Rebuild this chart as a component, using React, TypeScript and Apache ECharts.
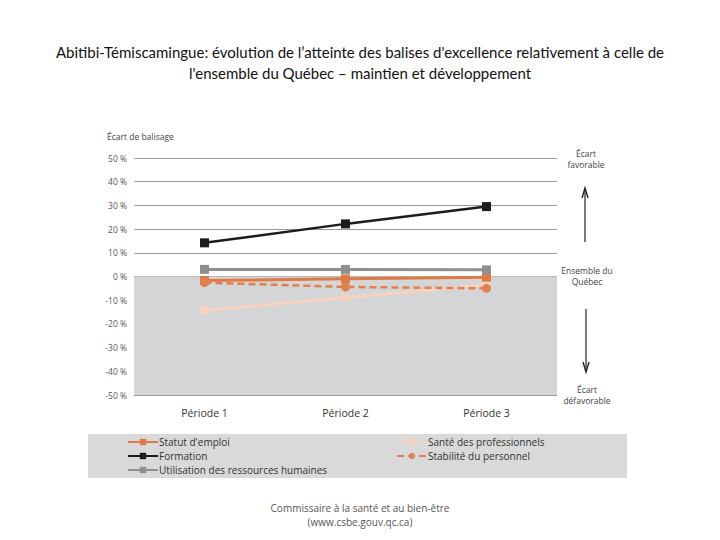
import React, { useEffect, useRef } from "react";
import * as echarts from "echarts";

const categories = ["Période 1", "Période 2", "Période 3"];
const statutEmploi = [-1.7, -1.0, -0.3];
const santeProfessionnels = [-14.2, -9.0, -3.5];
const formation = [14.2, 22.2, 29.5];
const stabilitePersonnel = [-2.6, -4.4, -5.0];
const utilisationRH = [3.0, 3.0, 2.8];
const yTicks = { min: -50, max: 50, interval: 10 };

const TITLE =
  "Abitibi-Témiscamingue: évolution de l’atteinte des balises d'excellence relativement à celle de\nl'ensemble du Québec – maintien et développement";

export default function App() {
  const ref = useRef<HTMLDivElement>(null);
  useEffect(() => {
    if (!ref.current) return;
    const chart = echarts.init(ref.current, null, { renderer: "svg" });
    const font = "'Open Sans', sans-serif";
    const mk = (
      name: string,
      data: number[],
      color: string,
      width: number,
      symbol: string,
      size: number,
      dashed = false
    ) => ({
      name,
      type: "line",
      data,
      symbol,
      symbolSize: size,
      showSymbol: true,
      lineStyle: { color, width, type: dashed ? [7, 4] : "solid" },
      itemStyle: { color, borderWidth: 0 },
      z: 3,
    });
    const legendText = { fontSize: 10, color: "#333", fontFamily: font, padding: [0, 0, 0, -4] };
    chart.setOption({
      animation: false,
      textStyle: { fontFamily: font },
      grid: { left: 134, right: 163, top: 158, bottom: 145 },
      xAxis: {
        type: "category",
        data: categories,
        boundaryGap: true,
        axisLine: { show: false },
        axisTick: { show: false },
        axisLabel: { color: "#333", fontSize: 10.5, margin: 12, fontFamily: font },
      },
      yAxis: {
        type: "value",
        min: yTicks.min,
        max: yTicks.max,
        interval: yTicks.interval,
        axisLine: { show: false },
        axisTick: { show: false },
        axisLabel: {
          formatter: (v: number) => `${v} %`,
          color: "#555",
          fontSize: 8.5,
          margin: 7,
          fontFamily: font,
        },
        splitLine: { lineStyle: { color: "#9a9a9a", width: 1 } },
      },
      legend: [
        {
          data: ["Statut d'emploi", "Formation", "Utilisation des ressources humaines"],
          orient: "vertical",
          left: 127,
          top: 437,
          itemWidth: 30,
          itemHeight: 8,
          itemGap: 4,
          padding: 0,
          textStyle: legendText,
        },
        {
          data: ["Santé des professionnels", "Stabilité du personnel"],
          orient: "vertical",
          left: 396,
          top: 437,
          itemWidth: 30,
          itemHeight: 8,
          itemGap: 4,
          padding: 0,
          textStyle: legendText,
        },
      ],
      graphic: [
        {
          type: "text",
          x: 360,
          y: 41,
          style: {
            text: TITLE,
            fontSize: 15,
            lineHeight: 21,
            fill: "#111",
            align: "center",
            fontFamily: "Lato, sans-serif",
          },
        },
        {
          type: "rect",
          z: -10,
          shape: { x: 88, y: 434, width: 539, height: 44 },
          style: { fill: "#d9d9d9" },
        },
        {
          type: "text",
          x: 107,
          y: 132,
          style: { text: "Écart de balisage", fontSize: 8.5, fill: "#444", fontFamily: font },
        },
        {
          type: "text",
          x: 586,
          y: 148,
          style: {
            text: "Écart\nfavorable",
            fontSize: 8.5,
            lineHeight: 11,
            fill: "#444",
            align: "center",
            fontFamily: font,
          },
        },
        {
          type: "text",
          x: 587,
          y: 265,
          style: {
            text: "Ensemble du\nQuébec",
            fontSize: 8.5,
            lineHeight: 11,
            fill: "#444",
            align: "center",
            fontFamily: font,
          },
        },
        {
          type: "text",
          x: 587,
          y: 384,
          style: {
            text: "Écart\ndéfavorable",
            fontSize: 8.5,
            lineHeight: 11,
            fill: "#444",
            align: "center",
            fontFamily: font,
          },
        },
        {
          type: "line",
          shape: { x1: 585, y1: 242, x2: 585, y2: 190 },
          style: { stroke: "#222", lineWidth: 1.2 },
        },
        {
          type: "polyline",
          shape: { points: [[582, 198], [585, 188], [588, 198]] },
          style: { stroke: "#222", lineWidth: 1.4, fill: null },
        },
        {
          type: "line",
          shape: { x1: 586, y1: 309, x2: 586, y2: 370 },
          style: { stroke: "#222", lineWidth: 1.2 },
        },
        {
          type: "polyline",
          shape: { points: [[583, 362], [586, 372], [589, 362]] },
          style: { stroke: "#222", lineWidth: 1.4, fill: null },
        },
        {
          type: "text",
          x: 360,
          y: 501,
          style: {
            text: "Commissaire à la santé et au bien-être\n(www.csbe.gouv.qc.ca)",
            fontSize: 10,
            lineHeight: 14,
            fill: "#555",
            align: "center",
            fontFamily: font,
          },
        },
      ],
      series: [
        {
          type: "line",
          data: [],
          z: -1,
          silent: true,
          markArea: {
            silent: true,
            itemStyle: { color: "#d4d5d7" },
            data: [[{ yAxis: 0 }, { yAxis: -50 }]],
          },
        },
        mk("Santé des professionnels", santeProfessionnels, "#f7d3bd", 3, "rect", 8),
        mk("Statut d'emploi", statutEmploi, "#e07a45", 3, "rect", 9),
        mk("Stabilité du personnel", stabilitePersonnel, "#e08050", 2.5, "circle", 9, true),
        mk("Utilisation des ressources humaines", utilisationRH, "#8f8f8f", 3, "rect", 9),
        mk("Formation", formation, "#1c1c1c", 2.5, "rect", 9),
      ],
    });
    return () => chart.dispose();
  }, []);
  return (
    <div
      ref={ref}
      style={{ position: "absolute", left: 0, top: 0, width: 720, height: 540 }}
    />
  );
}
